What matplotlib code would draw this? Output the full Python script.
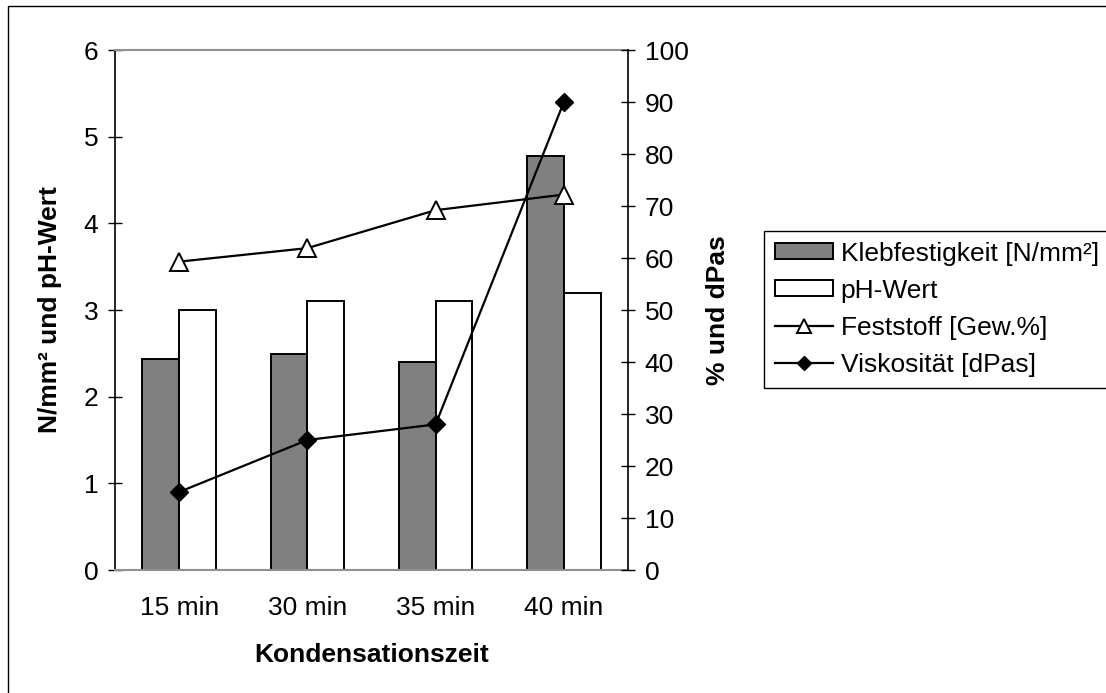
import numpy as np
import matplotlib

matplotlib.use("Agg")
import matplotlib.pyplot as plt
from matplotlib.patches import Rectangle

plt.rcParams["font.family"] = ["Liberation Sans", "DejaVu Sans"]
plt.rcParams["font.size"] = 19

# data
categories = ["15 min", "30 min", "35 min", "40 min"]
klebfestigkeit = [2.44, 2.49, 2.40, 4.78]   # N/mm², left axis
ph_wert = [3.0, 3.1, 3.1, 3.2]              # left axis
feststoff = [59.3, 61.9, 69.2, 72.2]        # Gew.%, right axis
viskositaet = [15, 25, 28, 90]              # dPas, right axis

W, H = 1106, 693
fig = plt.figure(figsize=(W / 100, H / 100), dpi=100)

# outer chart border (only left/top edges are inside the picture)
fig.patches.append(Rectangle((8 / W, -0.1), 1.2, (H - 6) / H + 0.1,
                             transform=fig.transFigure, fill=False,
                             edgecolor="black", linewidth=1.0))

ax = fig.add_axes([115 / W, (H - 570) / H, (628 - 115) / W, (570 - 50) / H])
ax2 = ax.twinx()

x = np.arange(len(categories))
bw = 0.287
ax.bar(x - bw / 2, klebfestigkeit, bw, color="#808080", edgecolor="black",
       linewidth=1.4, label="Klebfestigkeit [N/mm²]")
ax.bar(x + bw / 2, ph_wert, bw, color="white", edgecolor="black",
       linewidth=1.4, label="pH-Wert")

ax2.plot(x, feststoff, "-^", color="black", linewidth=1.6, markersize=13,
         markerfacecolor="white", markeredgecolor="black", markeredgewidth=1.4,
         label="Feststoff [Gew.%]")
ax2.plot(x, viskositaet, "-D", color="black", linewidth=1.6, markersize=9,
         label="Viskosität [dPas]")

ax.set_xlim(-0.5, 3.5)
ax.set_ylim(0, 6)
ax2.set_ylim(0, 100)
ax.set_yticks(np.arange(0, 7, 1))
ax2.set_yticks(np.arange(0, 101, 10))
ax.set_xticks(x)
ax.set_xticklabels(categories)

ax.tick_params(axis="y", direction="inout", length=10, width=1.0, pad=7)
ax2.tick_params(axis="y", direction="inout", length=10, width=1.0, pad=7)
ax.tick_params(axis="x", length=0, pad=19)

for s in ("top", "bottom"):
    ax.spines[s].set_color("#909090")
    ax.spines[s].set_linewidth(1.5)
ax.spines["left"].set_linewidth(1.2)
ax.spines["right"].set_visible(False)
for s in ("top", "bottom", "left"):
    ax2.spines[s].set_visible(False)
ax2.spines["right"].set_linewidth(1.2)

ax.set_xlabel("Kondensationszeit", fontweight="bold")
ax.xaxis.set_label_coords(0.5, -0.163)
ax.xaxis.label.set_va("center")
ax.set_ylabel("N/mm² und pH-Wert", fontweight="bold")
ax.yaxis.set_label_coords((50 - 115) / 513, 0.5)
ax.yaxis.label.set_va("center")
ax2.set_ylabel("% und dPas", fontweight="bold")
ax2.yaxis.set_label_coords((718 - 115) / 513, 0.5)
ax2.yaxis.label.set_va("center")

h1, l1 = ax.get_legend_handles_labels()
h2, l2 = ax2.get_legend_handles_labels()
leg = fig.legend(h1 + h2, l1 + l2, loc="upper left",
                 bbox_to_anchor=(764 / W, 1 - 231 / H), borderaxespad=0,
                 fancybox=False, edgecolor="black", framealpha=1,
                 fontsize=19, handlelength=2.2, handleheight=0.55,
                 handletextpad=0.3, labelspacing=0.5, borderpad=0.4,
                 markerscale=0.75)
leg.get_frame().set_linewidth(1.0)

fig.savefig("out.png", dpi=100)
